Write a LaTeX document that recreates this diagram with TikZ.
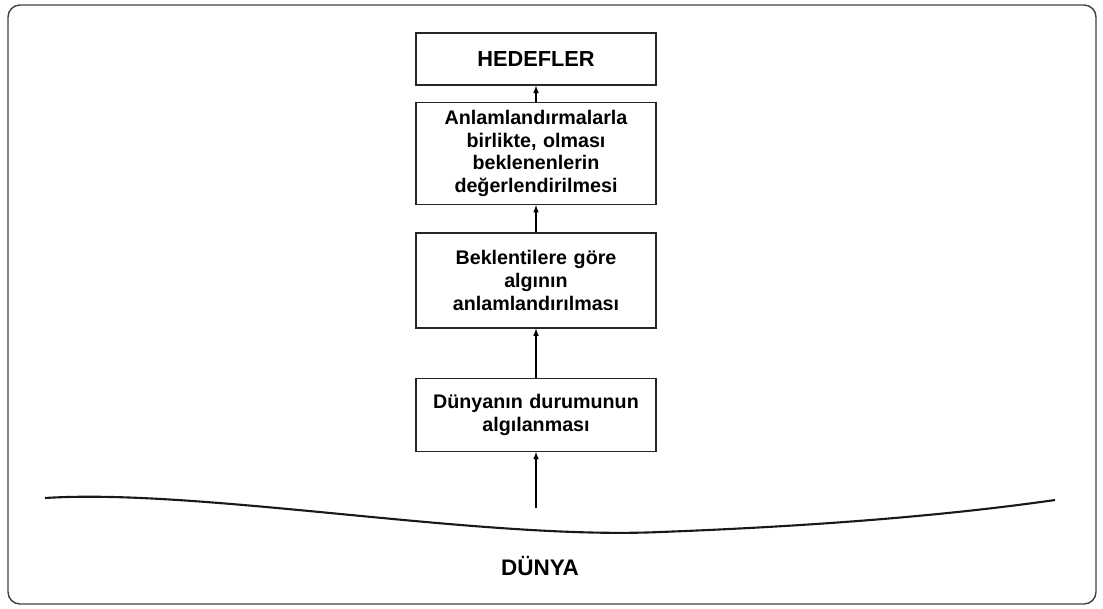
\documentclass[tikz,border=0pt]{standalone}
\usepackage{fontspec}
\setmainfont{Liberation Sans}
\usepackage{tikz}
\usetikzlibrary{positioning}

\begin{document}
\begin{tikzpicture}[>=latex,thick]
\tikzstyle{stage}=[rectangle,draw=black!85,line width=1pt,fill=white,align=center,text width=5.7cm,minimum width=6cm,font=\bfseries\fontsize{14}{16.3}\selectfont]
\useasboundingbox (0,0) rectangle (27.575,-15.2);
\draw[black!75,line width=1pt,rounded corners=0.3cm] (0.2,-0.125) rectangle (27.4,-15.1);
\node[stage, minimum height=1.3cm, font=\bfseries\fontsize{15.5}{18}\selectfont] (hedef) at (13.4,-1.475) {HEDEFLER};
\node[stage, minimum height=2.55cm, below=0.4cm of hedef] (degerl) {Anlamlandırmalarla\\birlikte, olması\\beklenenlerin\\değerlendirilmesi};
\node[stage, minimum height=2.375cm, below=0.675cm of degerl] (anlam) {Beklentilere göre\\algının\\anlamlandırılması};
\node[stage, minimum height=1.825cm, below=1.225cm of anlam] (algi) {Dünyanın durumunun\\algılanması};
\coordinate (zemin) at (13.4,-12.7);
% dunya cizgisi
\draw[black!90,line width=1.5pt] (1.125,-12.45) .. controls (5,-12.2) and (12,-13.5) .. (16.5,-13.3) .. controls (20.5,-13.15) and (23.75,-12.875) .. (26.375,-12.5);
\node[font=\bfseries\fontsize{16}{19}\selectfont] (dunya) at (13.5,-14.15) {DÜNYA};
\draw[->] (zemin) -- (algi);
\draw[->] (algi) -- (anlam);
\draw[->] (anlam) -- (degerl);
\draw[->] (degerl) -- (hedef);
\end{tikzpicture}
\end{document}
